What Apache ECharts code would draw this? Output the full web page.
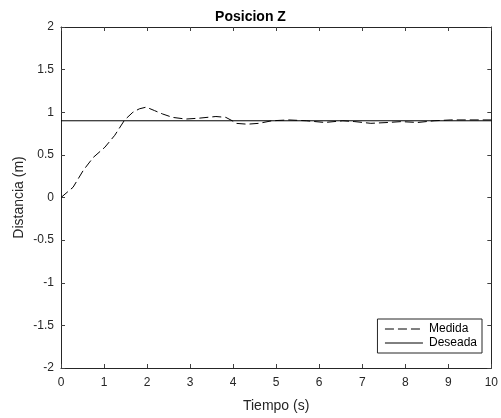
<!DOCTYPE html>
<html><head><meta charset="utf-8">
<script src="https://cdn.jsdelivr.net/npm/echarts@6/dist/echarts.min.js"></script>
<style>html,body{margin:0;padding:0;background:#fff}#c{width:501px;height:418px}</style>
</head><body><div id="c"></div>
<script>
const tiempoMedida = [0,0.28,0.52,0.75,1.02,1.25,1.48,1.67,1.82,1.98,2.17,2.36,2.59,2.9,3.2,3.6,3.83,3.98,4.06,4.33,4.6,4.9,5.29,5.7,6.13,6.55,6.83,7.2,7.6,7.9,8.29,8.67,9.06,9.45,9.83,10];
const medida = [0,0.12,0.32,0.47,0.59,0.73,0.91,1.0,1.04,1.06,1.02,0.98,0.94,0.92,0.93,0.95,0.94,0.90,0.87,0.86,0.87,0.90,0.91,0.90,0.88,0.90,0.89,0.87,0.88,0.89,0.88,0.90,0.91,0.91,0.91,0.91];
const tiempoDeseada = [0,10];
const deseada = [0.9,0.9];
const xTicks = [0,1,2,3,4,5,6,7,8,9,10];
const yTicks = [-2,-1.5,-1,-0.5,0,0.5,1,1.5,2];

const font = 'Liberation Sans, Arial, sans-serif';
const chart = echarts.init(document.getElementById('c'), null, {renderer:'canvas'});
const axisLine = () => ({show:true, onZero:false, lineStyle:{color:'#262626', width:1}});
const tick = () => ({show:true, inside:true, length:4, lineStyle:{color:'#404040', width:1}});
chart.setOption({
  animation:false,
  backgroundColor:'#fff',
  title:{text:'Posicion Z', left:'center', top:5, textStyle:{fontFamily:font, fontSize:14, fontWeight:'bold', color:'#000'}},
  grid:{left:61, right:7, top:27, bottom:50, containLabel:false},
  legend:{
    orient:'vertical', right:19, bottom:65, backgroundColor:'#fff', borderColor:'#262626', borderWidth:1,
    padding:[4,5,4,7], itemGap:2, itemWidth:38, itemHeight:12,
    itemStyle:{color:'transparent', borderWidth:0, opacity:0},
    lineStyle:{width:1},
    textStyle:{fontFamily:font, fontSize:12, color:'#000', padding:[0,0,0,1]},
    data:['Medida','Deseada']
  },
  xAxis:[
    {type:'value', min:0, max:10, interval:1, position:'bottom', axisLine:axisLine(), axisTick:tick(), splitLine:{show:false},
     axisLabel:{fontFamily:font, fontSize:12, color:'#262626', margin:9, formatter:v=>xTicks.includes(v)?String(v):''},
     name:'Tiempo (s)', nameLocation:'middle', nameGap:31, nameMoveOverlap:false, nameTextStyle:{fontFamily:font, fontSize:14, color:'#262626'}},
    {type:'value', min:0, max:10, interval:1, position:'top', axisLine:axisLine(), axisTick:tick(), axisLabel:{show:false}, splitLine:{show:false}}
  ],
  yAxis:[
    {type:'value', min:-2, max:2, interval:0.5, position:'left', axisLine:axisLine(), axisTick:tick(), splitLine:{show:false},
     axisLabel:{fontFamily:font, fontSize:12, color:'#262626', margin:7, formatter:v=>yTicks.includes(v)?String(v):''},
     name:'Distancia (m)', nameLocation:'middle', nameGap:35, nameMoveOverlap:false, nameTextStyle:{fontFamily:font, fontSize:14, color:'#262626'}},
    {type:'value', min:-2, max:2, interval:0.5, position:'right', axisLine:axisLine(), axisTick:tick(), axisLabel:{show:false}, splitLine:{show:false}}
  ],
  series:[
    {name:'Medida', type:'line', symbol:'none', smooth:false,
     data:tiempoMedida.map((t,i)=>[t,medida[i]]),
     lineStyle:{color:'#000', width:1, type:[9,4]}, itemStyle:{color:'#000'}},
    {name:'Deseada', type:'line', symbol:'none',
     data:tiempoDeseada.map((t,i)=>[t,deseada[i]]),
     lineStyle:{color:'#000', width:1, type:'solid'}, itemStyle:{color:'#000'}}
  ]
});
</script></body></html>
